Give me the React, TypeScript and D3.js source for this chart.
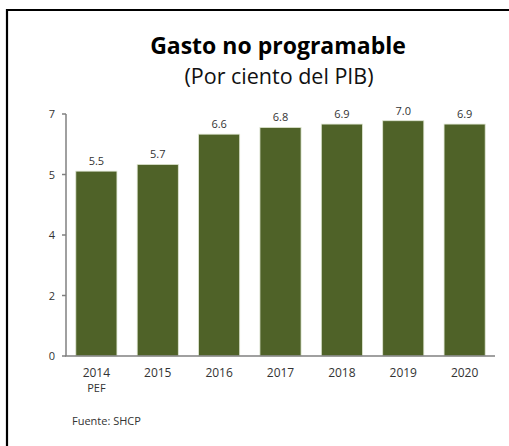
import React, { useEffect } from "react";
import * as d3 from "d3";

const categories = ["2014 PEF", "2015", "2016", "2017", "2018", "2019", "2020"];
const values = [5.5, 5.7, 6.6, 6.8, 6.9, 7.0, 6.9];
const yTicks = [0, 1.8, 3.6, 5.4, 7.2];
const title = "Gasto no programable";
const subtitle = "(Por ciento del PIB)";
const source = "Fuente: SHCP";

const FONT = "'Open Sans', 'Noto Sans', sans-serif";

export default function App() {
  useEffect(() => {
    document.body.style.margin = "0";
    document.body.style.overflow = "hidden";
    document.documentElement.style.overflow = "hidden";
  }, []);
  const W = 509, H = 446;
  const left = 66, right = 495, top = 114, bottom = 356;
  const x = d3.scaleBand<string>().domain(categories).range([left, right]).paddingInner(0.33).paddingOuter(0.16);
  const y = d3.scaleLinear().domain([0, 7.2]).range([bottom, top]);
  const fmt = d3.format(".0f");
  const fmtV = d3.format(".1f");
  return (
    <svg width={W} height={H} style={{ position: "fixed", left: 0, top: 0, background: "#fff", display: "block" }}>
      <line x1={7} x2={7} y1={9} y2={H} stroke="#000" strokeWidth={2.2} />
      <line x1={6} x2={W} y1={10} y2={10} stroke="#000" strokeWidth={2.2} />
      <text x={278} y={54} textAnchor="middle" fontFamily={FONT} fontWeight={700} fontSize={23} fill="#000">{title}</text>
      <text x={279} y={84} textAnchor="middle" fontFamily={FONT} fontWeight={400} fontSize={21.5} fill="#111">{subtitle}</text>
      {categories.map((c, i) => (
        <rect key={c} x={x(c)} y={y(values[i])} width={x.bandwidth()} height={bottom - y(values[i])}
          fill="#4F6228" stroke="#dfe6d2" strokeWidth={0.8} />
      ))}
      {categories.map((c, i) => (
        <text key={"v" + c} x={(x(c) as number) + x.bandwidth() / 2} y={y(values[i]) - 6} textAnchor="middle"
          fontFamily={FONT} fontSize={11} fill="#333">{fmtV(values[i])}</text>
      ))}
      <line x1={left} x2={left} y1={top} y2={bottom} stroke="#808080" strokeWidth={1.5} />
      <line x1={left - 1} x2={right} y1={bottom} y2={bottom} stroke="#808080" strokeWidth={1.5} />
      {yTicks.map((t) => (
        <g key={t}>
          <line x1={left - 4} x2={left} y1={y(t)} y2={y(t)} stroke="#808080" strokeWidth={1.5} />
          <text x={55} y={y(t) + 4} textAnchor="end" fontFamily={FONT} fontSize={11} fill="#333">{fmt(t)}</text>
        </g>
      ))}
      {categories.map((c) => {
        const parts = c.split(" ");
        const cx = (x(c) as number) + x.bandwidth() / 2;
        return (
          <text key={"x" + c} x={cx} y={377} textAnchor="middle" fontFamily={FONT} fontSize={12} fill="#333">
            {parts.map((p, j) => (
              <tspan key={j} x={cx} dy={j === 0 ? 0 : 15} fontSize={j === 0 ? 12 : 11}>{p}</tspan>
            ))}
          </text>
        );
      })}
      <text x={72} y={425} fontFamily={FONT} fontSize={11} fill="#333">{source}</text>
    </svg>
  );
}
